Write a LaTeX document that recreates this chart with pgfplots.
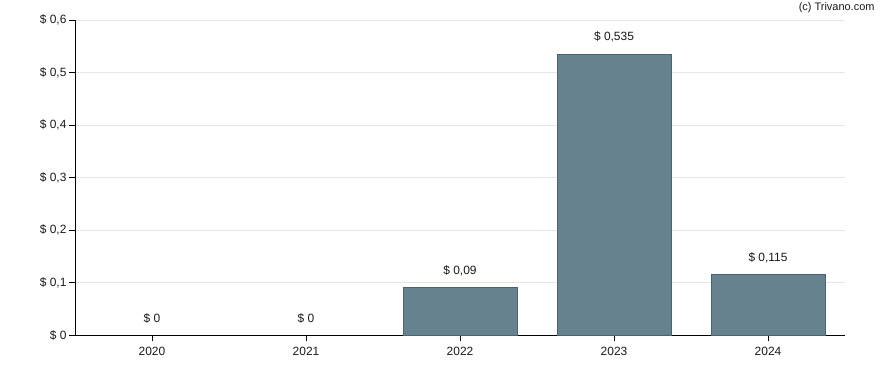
\documentclass[border=0pt]{standalone}
\usepackage{pgfplots}
\pgfplotsset{compat=1.18}
\usepackage{fontspec}
\setmainfont{Liberation Sans}
\definecolor{barfill}{HTML}{67828F}
\definecolor{baredge}{HTML}{4A6275}
\definecolor{gridc}{HTML}{E6E6E6}
\definecolor{txt}{HTML}{1A1A1A}
\begin{document}
\begin{tikzpicture}[x=1bp,y=1bp]
\useasboundingbox (0,0) rectangle (888,370);
\begin{axis}[
  at={(75bp,35bp)}, anchor=south west,
  scale only axis, width=770bp, height=315bp,
  xmin=-0.5, xmax=4.5, ymin=0, ymax=0.6,
  axis x line*=bottom, axis y line*=left,
  axis line style={black, line width=0.9bp},
  xtick={0,1,2,3,4}, xticklabels={2020,2021,2022,2023,2024},
  ytick={0,0.1,0.2,0.3,0.4,0.5,0.6},
  yticklabels={\$ 0,\$ 0{,}1,\$ 0{,}2,\$ 0{,}3,\$ 0{,}4,\$ 0{,}5,\$ 0{,}6},
  ymajorgrids, grid style={gridc, line width=0.8bp},
  tick align=outside,
  ytick style={black, line width=0.9bp},
  xtick style={black, line width=0.9bp},
  major tick length=6bp,
  ticklabel style={font=\fontsize{12}{14}\selectfont, text=txt},
  yticklabel style={xshift=1bp},
  xticklabel style={yshift=-3bp},
  ybar, bar width=114bp, bar shift=0pt,
  nodes near coords={\$ \pgfmathprintnumber[fixed, use comma, precision=3, assume math mode=true]{\pgfplotspointmeta}},
  every node near coord/.append style={font=\fontsize{12}{14}\selectfont, text=txt, yshift=8bp},
]
\addplot[fill=barfill, draw=baredge, line width=0.8bp] coordinates {(2,0.09) (3,0.535) (4,0.115)};
\addplot[fill=none, draw=none] coordinates {(0,0) (1,0)};
\end{axis}
\node[anchor=east, font=\fontsize{11}{13}\selectfont, text=txt] at (878,362) {(c) Trivano.com};
\end{tikzpicture}
\end{document}
